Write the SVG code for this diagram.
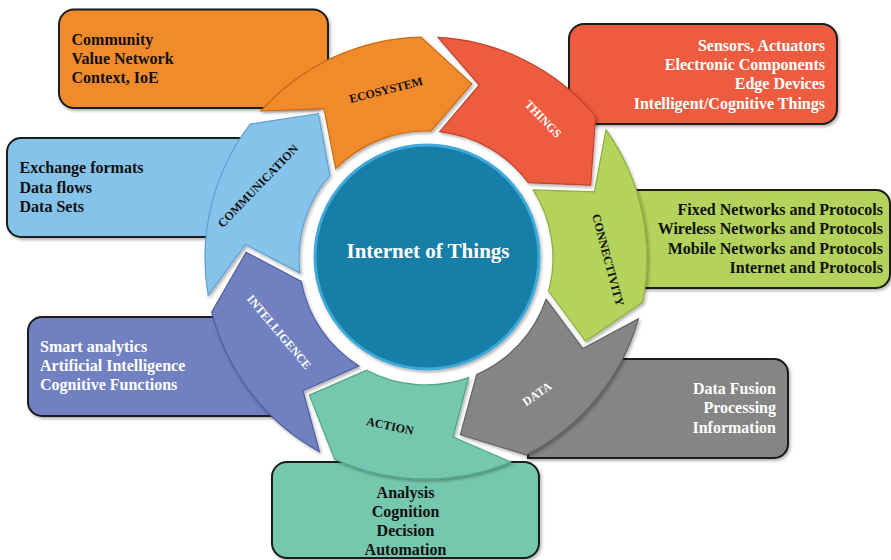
<svg xmlns="http://www.w3.org/2000/svg" width="891" height="560" viewBox="0 0 891 560">
<defs>
<filter id="sh" x="-10%" y="-10%" width="120%" height="120%">
<feDropShadow dx="1.5" dy="2" stdDeviation="1.5" flood-color="#000" flood-opacity="0.3"/>
</filter>
<style>
.box{stroke:#1a1a1a;stroke-width:2;filter:url(#sh)}
.seg{stroke-width:1.2;filter:url(#sh)}
.t{font-family:"Liberation Serif","Times New Roman",serif;font-weight:bold;font-size:16px}
.lb{font-family:"Liberation Serif","Times New Roman",serif;font-weight:bold;font-size:12px;text-anchor:middle;dominant-baseline:central}
.w{fill:#ffffff}
.k{fill:#111111}
</style>
</defs>
<rect width="891" height="560" fill="#ffffff"/>

<g id="ecosystem">
<rect class="box" x="59" y="9.5" width="269" height="98.5" rx="15" fill="#F18A2B"/>
<text class="t k" x="71.5" y="45">Community</text>
<text class="t k" x="71.5" y="64">Value Network</text>
<text class="t k" x="71.5" y="83">Context, IoE</text>
<path class="seg" fill="#F18A2B" stroke="#C96A14" d="M261.0,111.0 L324.0,108.5 L335.7,168.7 A127,127 0 0 1 430.9,131.1 L471.7,83.9 L421.0,37.1 A221,221 0 0 0 261.0,111.0 Z"/>
<text class="lb k" transform="translate(386,90) rotate(-14)">ECOSYSTEM</text>
</g>

<g id="things">
<rect class="box" x="569" y="24" width="268" height="100" rx="15" fill="#EE5C40"/>
<text class="t w" text-anchor="end" x="825" y="50.7">Sensors, Actuators</text>
<text class="t w" text-anchor="end" x="825" y="70">Electronic Components</text>
<text class="t w" text-anchor="end" x="825" y="89.3">Edge Devices</text>
<text class="t w" text-anchor="end" x="825" y="108.5">Intelligent/Cognitive Things</text>
<path class="seg" fill="#EE5C40" stroke="#C4412A" d="M438.1,37.3 L479.3,85.0 L439.6,131.7 A127,127 0 0 1 528.3,182.7 L590.6,185.2 L595.6,116.3 A221,221 0 0 0 438.1,37.3 Z"/>
<text class="lb w" transform="translate(543,119) rotate(46)">THINGS</text>
</g>

<g id="connectivity">
<path class="box" fill="#B3D35B" d="M615,190 H876 A14,14 0 0 1 890,204 V274 A14,14 0 0 1 876,288 H615 Z"/>
<text class="t k" text-anchor="end" x="883" y="215">Fixed Networks and Protocols</text>
<text class="t k" text-anchor="end" x="883" y="234.3">Wireless Networks and Protocols</text>
<text class="t k" text-anchor="end" x="883" y="253.5">Mobile Networks and Protocols</text>
<text class="t k" text-anchor="end" x="883" y="272.5">Internet and Protocols</text>
<path class="seg" fill="#B3D35B" stroke="#8DAE3A" d="M606.0,129.9 L594.5,191.8 L533.2,189.9 A127,127 0 0 1 548.6,291.0 L585.6,341.3 L642.5,302.3 A221,221 0 0 0 606.0,129.9 Z"/>
<text class="lb k" transform="translate(608,260) rotate(75)">CONNECTIVITY</text>
</g>

<g id="data">
<path class="box" fill="#858585" d="M528,359 H774 A14,14 0 0 1 788,373 V444 A14,14 0 0 1 774,458 H528 Z"/>
<text class="t w" text-anchor="end" x="776" y="394">Data Fusion</text>
<text class="t w" text-anchor="end" x="776" y="413.3">Processing</text>
<text class="t w" text-anchor="end" x="776" y="432.7">Information</text>
<path class="seg" fill="#858585" stroke="#626262" d="M638.4,318.9 L582.8,348.5 L546.1,299.3 A127,127 0 0 1 476.7,374.5 L460.4,434.7 L526.4,454.9 A221,221 0 0 0 638.4,318.9 Z"/>
<text class="lb w" transform="translate(537,394) rotate(-35)">DATA</text>
</g>

<g id="action">
<rect class="box" x="272" y="462" width="267" height="96" rx="15" fill="#74C7AE"/>
<text class="t k" text-anchor="middle" x="405.5" y="497.5">Analysis</text>
<text class="t k" text-anchor="middle" x="405.5" y="516.8">Cognition</text>
<text class="t k" text-anchor="middle" x="405.5" y="536">Decision</text>
<text class="t k" text-anchor="middle" x="405.5" y="555.3">Automation</text>
<path class="seg" fill="#74C7AE" stroke="#4FA58C" d="M510.9,462.0 L453.0,437.0 L468.6,377.6 A127,127 0 0 1 366.6,370.2 L309.4,395.1 L334.7,459.2 A221,221 0 0 0 510.9,462.0 Z"/>
<text class="lb k" transform="translate(390,426) rotate(12)">ACTION</text>
</g>

<g id="intelligence">
<path class="box" fill="#6F80C1" d="M300,317 H42 A14,14 0 0 0 28,331 V402 A14,14 0 0 0 42,416 H300 Z"/>
<text class="t w" x="40" y="351.7">Smart analytics</text>
<text class="t w" x="40" y="371">Artificial Intelligence</text>
<text class="t w" x="40" y="390">Cognitive Functions</text>
<path class="seg" fill="#6F80C1" stroke="#505FA0" d="M319.4,451.6 L303.0,390.8 L359.0,365.9 A127,127 0 0 1 301.2,281.5 L246.1,252.2 L211.7,312.1 A221,221 0 0 0 319.4,451.6 Z"/>
<text class="lb w" transform="translate(279,332) rotate(50)">INTELLIGENCE</text>
</g>

<g id="communication">
<path class="box" fill="#86C3EA" d="M290,138 H21 A14,14 0 0 0 7,152 V223 A14,14 0 0 0 21,237 H290 Z"/>
<text class="t k" x="19.5" y="173.3">Exchange formats</text>
<text class="t k" x="19.5" y="192.7">Data flows</text>
<text class="t k" x="19.5" y="211.7">Data Sets</text>
<path class="seg" fill="#86C3EA" stroke="#5FA2CF" d="M208.2,295.4 L245.5,244.5 L299.9,272.9 A127,127 0 0 1 329.8,175.1 L318.4,113.7 L250.2,124.1 A221,221 0 0 0 208.2,295.4 Z"/>
<text class="lb k" transform="translate(258,186) rotate(-46)">COMMUNICATION</text>
</g>

<g id="center">
<circle cx="427" cy="257" r="112" fill="#137FA8" stroke="#3FA9DA" stroke-width="3" filter="url(#sh)"/>
<text x="428" y="258" text-anchor="middle" fill="#ffffff" font-family="'Liberation Serif','Times New Roman',serif" font-weight="bold" font-size="21">Internet of Things</text>
</g>
</svg>
